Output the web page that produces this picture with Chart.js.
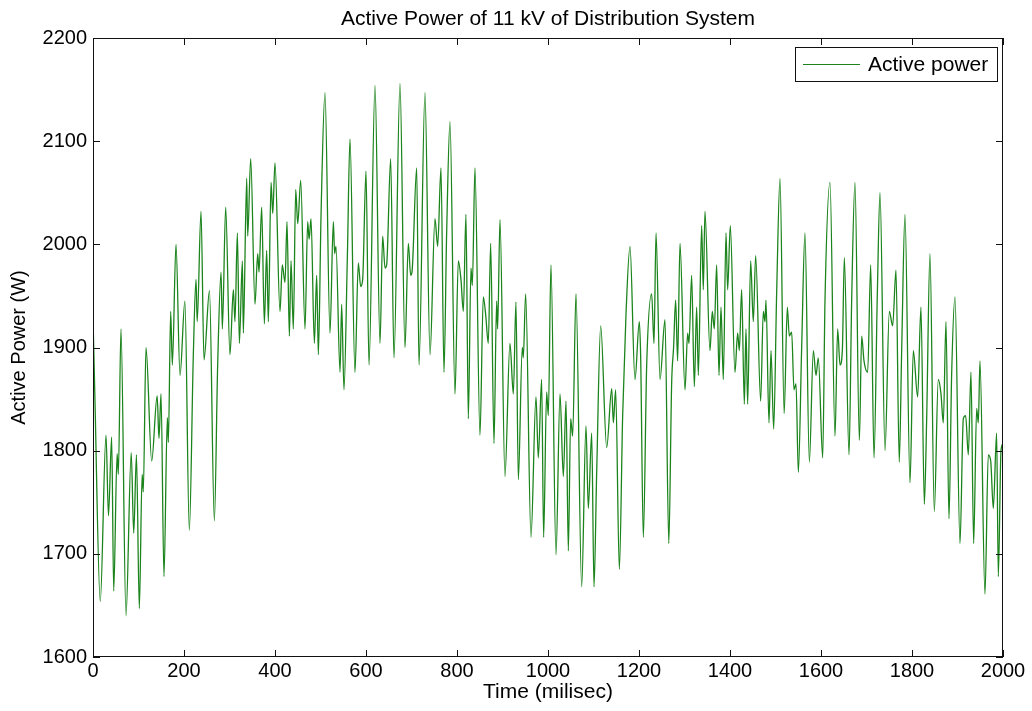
<!DOCTYPE html>
<html><head><meta charset="utf-8">
<script src="https://cdn.jsdelivr.net/npm/chart.js@4.4.1/dist/chart.umd.min.js"></script>
<style>html,body{margin:0;padding:0;background:#fff;}#wrap{width:1032px;height:711px;}</style>
</head><body><div id="wrap"><canvas id="c" width="1032" height="711"></canvas></div>
<script>
const chartTitle = 'Active Power of 11 kV of Distribution System';
const seriesLabel = 'Active power';
const xAxisLabel = 'Time (milisec)';
const yAxisLabel = 'Active Power (W)';
const xTickValues = [0, 200, 400, 600, 800, 1000, 1200, 1400, 1600, 1800, 2000];
const yTickValues = [1600, 1700, 1800, 1900, 2000, 2100, 2200];

const timeMs = [
0,4,16,28.6,34,41,45.5,53,55.7,61.5,72.5,84,89.5,95.5,101.8,108,110.5,116.5,129,141,145,149.5,156,163.4,165.6,170.7,174.4,182.4,191.2,202,211.7,220.5,226.4,229,237.4,244,256,266.7,274,281.4,284.3,291.6,301,308.5,312,317.3,321.7,328.3,330.4,337.8,340,346.6,356,362,364.9,370.7,376.6,381.7,385.4,391.3,395,400,411,416,422,426.4,431.6,435.2,440.3,445.5,450,456.5,466,471.8,475,479.2,486.5,491.6,495.3,501.2,
509.9,520.9,528.2,531.1,534.1,542.9,546.5,551.6,559,564.8,575.8,583.1,588.3,592.7,600,606.6,619.8,630.8,636.6,641.8,645.4,654.2,661.5,674.7,685.7,693,698.2,701.1,711.4,716.5,729.6,740.7,751.6,757.5,764.8,771.4,777.2,784.6,795.6,802.9,808.7,813.9,819.7,824.9,830.7,833.7,839.5,850.5,857.8,863,868.8,874,881.3,887.1,889.3,894.5,905.4,916.4,923.8,929.6,934.8,943.5,945.7,950.9,962.6,973.6,978.7,986,990.4,997,1000.7,
1006.5,1017.6,1026.4,1033.7,1039.6,1044.7,1049.8,1054.2,1061.5,1074,1083.5,1088.6,1096,1101.1,1107,1115.8,1129,1140,1143.6,1148.7,1156.8,1164.1,1171.4,1180.2,1191.2,1200.7,1203.7,1209.5,1216.9,1227.8,1233,1237.4,1246.2,1257.1,1265.5,1271.8,1276,1280.5,1284.9,1290.1,1301.1,1306.9,1309.9,1315.7,1321.6,1326.7,1330.4,1337.7,1341.3,1345,1356,1361.1,1365.5,1370.7,1375.8,1380.2,1385.3,1391.2,1394.8,1400.7,1410.9,1416.8,1420.5,1425.6,1431.5,1435.1,1438.8,1445.4,1451.2,1456.4,1467.4,1473.2,1476.9,1479.1,1485.7,1490.1,1496,1502.5,
1509.9,1519,1526,1530.4,1535.5,1540.7,1545.1,1550.2,1557.5,1564.8,1574.4,1583.2,1589,1594.1,1603.7,1608.8,1619.8,1630.8,1636.6,1641.8,1646.9,1651.3,1661.6,1667.4,1674.7,1684.3,1689.4,1694.5,1702.6,1709.2,1716.5,1723.8,1729.7,1740.7,1750.2,1757.5,1764.8,1772,1777.3,1784.6,1795.6,1802.9,1812.4,1819.7,1827.1,1832.2,1839.5,1849,1857.8,1863.7,1868.8,1874.7,1881.3,1887.1,1894.5,1905.5,1912.8,1917.9,1923.8,1929.6,1935.5,1942.1,1945.8,1949.4,1960.4,1967.7,1973,1978.7,1986,1989.7,1995.6,2000
];
const activePowerW = [
1930,1855,1654,1815,1737,1813,1664,1797,1777,1918,1640,1798,1720,1796,1647,1777,1760,1900,1790,1853,1812,1855,1678,1832,1808,1935,1883,2000,1873,1945,1723,1893,1966,1925,2032,1888,1955,1732,1883,1973,1918,2036,1893,1956,1925,2011,1904,1984,1914,2064,2008,2083,1942,1991,1973,2036,1923,1994,1925,2060,2030,2079,1935,1980,1963,2022,1911,1984,1918,2053,2020,2062,1918,2022,2005,2025,1904,1970,1893,2029,
2147,1914,2022,1991,1998,1876,1942,1859,1987,2102,1876,1982,1959,1966,2071,1883,2154,1904,2008,1977,1980,2083,1890,2156,1900,2001,1970,1973,2074,1883,2147,1893,2025,1998,2074,1876,2010,2119,1855,1984,1966,1935,2029,1831,1977,1960,2074,1815,1949,1932,1904,2001,1807,1945,1918,2024,1775,1904,1855,1944,1772,1900,1890,1952,1716,1852,1793,1869,1716,1857,1834,
1980,1699,1855,1775,1848,1703,1831,1814,1952,1668,1824,1744,1817,1668,1779,1921,1803,1860,1827,1859,1685,1834,1932,1998,1869,1925,1890,1716,1883,1952,1904,2011,1869,1927,1710,1866,1900,1946,1887,2001,1859,1914,1904,1970,1862,1939,1873,2018,1956,2032,1897,1935,1918,1980,1873,1939,1869,2011,1956,2018,1876,1914,1897,1956,1845,1918,1845,1984,1925,1989,1848,1935,1925,1946,1827,1897,1821,1952,
2064,1836,1939,1911,1915,1859,1865,1779,1900,2011,1789,1897,1873,1890,1793,1946,2060,1814,1918,1883,1897,1987,1796,1946,2060,1810,1911,1887,1876,1980,1793,1952,2050,1800,1935,1921,1975,1789,1897,2029,1769,1897,1852,1939,1748,1830,1991,1741,1869,1855,1827,1925,1734,1873,1949,1710,1831,1834,1796,1876,1710,1841,1827,1887,1661,1796,1790,1744,1817,1678,1800,1807
];

const FONT = "'Liberation Sans', Arial, Helvetica, sans-serif";
const LINE_COLOR = 'rgb(28,132,28)';

const points = timeMs.map((t, i) => ({ x: t, y: activePowerW[i] }));

const framePlugin = {
  id: 'frame',
  afterDatasetsDraw(chart) {
    const { ctx, chartArea: a, scales: { x, y } } = chart;
    ctx.save();
    ctx.strokeStyle = '#111';
    ctx.lineWidth = 1;
    ctx.strokeRect(a.left + 0.5, a.top + 0.5, a.right - a.left - 1, a.bottom - a.top - 1);
    const tl = 7;
    ctx.beginPath();
    xTickValues.forEach(v => {
      const px = Math.round(x.getPixelForValue(v)) + 0.5;
      ctx.moveTo(px, a.bottom); ctx.lineTo(px, a.bottom - tl);
      ctx.moveTo(px, a.top); ctx.lineTo(px, a.top + tl);
    });
    yTickValues.forEach(v => {
      const py = Math.round(y.getPixelForValue(v)) + 0.5;
      ctx.moveTo(a.left, py); ctx.lineTo(a.left + tl, py);
      ctx.moveTo(a.right, py); ctx.lineTo(a.right - tl, py);
    });
    ctx.stroke();

    // legend box
    const ds = chart.data.datasets[0];
    const bw = 202, bh = 34;
    const bx = a.right - 6 - bw, by = a.top + 9;
    ctx.fillStyle = '#fff';
    ctx.fillRect(bx, by, bw, bh);
    ctx.strokeStyle = '#111';
    ctx.strokeRect(bx + 0.5, by + 0.5, bw, bh);
    ctx.strokeStyle = ds.borderColor;
    ctx.lineWidth = 1;
    ctx.beginPath();
    ctx.moveTo(bx + 8, by + 17.5); ctx.lineTo(bx + 65, by + 17.5);
    ctx.stroke();
    ctx.fillStyle = '#000';
    ctx.font = '21px ' + FONT;
    ctx.textAlign = 'left';
    ctx.textBaseline = 'middle';
    ctx.fillText(ds.label, bx + 73, by + 18);

    // title
    ctx.textAlign = 'center';
    ctx.fillText(chartTitle, (a.left + a.right) / 2, 19);
    ctx.restore();
  }
};

new Chart(document.getElementById('c'), {
  type: 'line',
  data: {
    datasets: [{
      label: seriesLabel,
      data: points,
      borderColor: LINE_COLOR,
      borderWidth: 1.3,
      pointRadius: 0,
      fill: false,
      cubicInterpolationMode: 'monotone'
    }]
  },
  options: {
    responsive: false,
    animation: false,
    devicePixelRatio: 1,
    layout: { padding: { top: 38, right: 29, left: 0, bottom: 0 } },
    plugins: { legend: { display: false }, title: { display: false }, tooltip: { enabled: false } },
    scales: {
      x: {
        type: 'linear', min: 0, max: 2000,
        afterBuildTicks: s => { s.ticks = xTickValues.map(v => ({ value: v })); },
        afterFit: s => { s.height = 54; },
        grid: { display: false, drawTicks: false },
        border: { display: false },
        ticks: { color: '#000', font: { family: FONT, size: 20 }, padding: 2, maxRotation: 0, autoSkip: false, callback: v => String(v) },
        title: { display: true, text: xAxisLabel, color: '#000', font: { family: FONT, size: 21 }, padding: { top: 0, bottom: 6 } }
      },
      y: {
        type: 'linear', min: 1600, max: 2200,
        afterBuildTicks: s => { s.ticks = yTickValues.map(v => ({ value: v })); },
        afterFit: s => { s.width = 93; },
        grid: { display: false, drawTicks: false },
        border: { display: false },
        ticks: { color: '#000', font: { family: FONT, size: 20 }, padding: 6, autoSkip: false, callback: v => String(v) },
        title: { display: true, text: yAxisLabel, color: '#000', font: { family: FONT, size: 20 }, padding: { top: 7, bottom: 0 } }
      }
    }
  },
  plugins: [framePlugin]
});
</script>
</body></html>
